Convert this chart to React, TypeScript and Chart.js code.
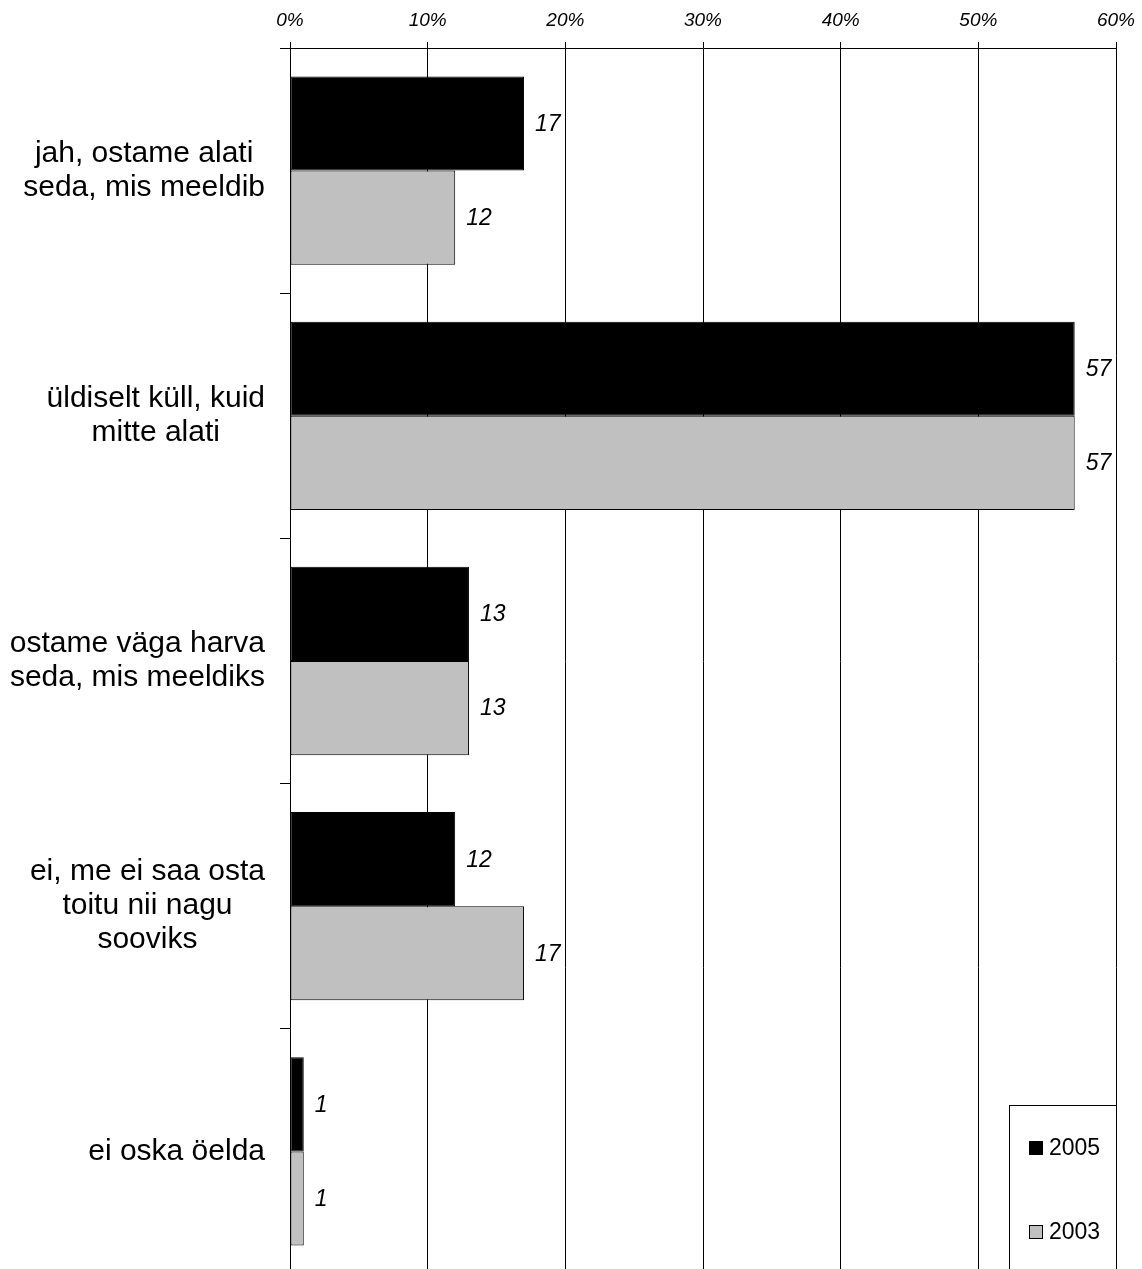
import React, { useEffect, useRef } from "react";
import { Chart, registerables } from "chart.js";

Chart.register(...registerables);

// Survey answers (share of respondents, %)
const categories: string[][] = [
  ["jah, ostame alati", "seda, mis meeldib"],
  ["üldiselt küll, kuid", "mitte alati"],
  ["ostame väga harva", "seda, mis meeldiks"],
  ["ei, me ei saa osta", "toitu nii nagu", "sooviks"],
  ["ei oska öelda"],
];
const seriesNames = ["2005", "2003"];
const values2005 = [17, 57, 13, 12, 1];
const values2003 = [12, 57, 13, 17, 1];
const seriesColors = ["#000000", "#C0C0C0"];
const xMin = 0;
const xMax = 60;
const xStep = 10;

const FONT = "'Liberation Sans', Arial, Helvetica, sans-serif";

// Category names: each block right-aligned to the axis, lines centred within it
const categoryLabelPlugin = {
  id: "categoryLabels",
  afterDraw(chart: any) {
    const { ctx } = chart;
    const yScale = chart.scales.y;
    const right = chart.chartArea.left - 25;
    const lineHeight = 34;
    ctx.save();
    ctx.font = `30px ${FONT}`;
    ctx.fillStyle = "#000";
    ctx.textAlign = "center";
    ctx.textBaseline = "middle";
    categories.forEach((lines, i) => {
      const cy = yScale.getPixelForTick(i);
      const blockW = Math.max(...lines.map((l) => ctx.measureText(l).width));
      const cx = right - blockW / 2;
      const startY = cy - ((lines.length - 1) * lineHeight) / 2;
      lines.forEach((line, j) => {
        ctx.fillText(line, cx, startY + j * lineHeight);
      });
    });
    ctx.restore();
  },
};

// Value labels just past the end of every bar
const valueLabelPlugin = {
  id: "valueLabels",
  afterDatasetsDraw(chart: any) {
    const { ctx } = chart;
    ctx.save();
    ctx.font = `italic 23px ${FONT}`;
    ctx.fillStyle = "#000";
    ctx.textAlign = "left";
    ctx.textBaseline = "middle";
    chart.data.datasets.forEach((ds: any, di: number) => {
      const meta = chart.getDatasetMeta(di);
      meta.data.forEach((el: any, i: number) => {
        ctx.fillText(String(ds.data[i]), el.x + 11, el.y + 1);
      });
    });
    ctx.restore();
  },
};

// Boxed legend sitting in the lower right corner of the plot
const boxLegendPlugin = {
  id: "boxLegend",
  afterDraw(chart: any) {
    const { ctx, chartArea } = chart;
    const right = chartArea.right + 1;
    const left = right - 108;
    const top = chartArea.bottom - 169;
    ctx.save();
    ctx.fillStyle = "#fff";
    ctx.fillRect(left, top, right - left, chartArea.bottom - top + 2);
    ctx.strokeStyle = "#000";
    ctx.lineWidth = 1;
    ctx.strokeRect(left + 0.5, top + 0.5, right - left - 1, chartArea.bottom - top + 10);
    ctx.font = `23px ${FONT}`;
    ctx.textBaseline = "middle";
    ctx.textAlign = "left";
    chart.data.datasets.forEach((ds: any, di: number) => {
      const cy = top + 43 + di * 84;
      ctx.fillStyle = ds.backgroundColor;
      ctx.fillRect(left + 20, cy - 7, 14, 14);
      ctx.strokeStyle = "#000";
      ctx.strokeRect(left + 20.5, cy - 6.5, 13, 13);
      ctx.fillStyle = "#000";
      ctx.fillText(ds.label, left + 40, cy + 1);
    });
    ctx.restore();
  },
};

export default function App() {
  const canvasRef = useRef<HTMLCanvasElement | null>(null);

  useEffect(() => {
    const canvas = canvasRef.current;
    if (!canvas) return;
    const chart = new Chart(canvas, {
      type: "bar",
      data: {
        labels: categories.map((c) => c.join(" ")),
        datasets: [
          {
            label: seriesNames[0],
            data: values2005,
            backgroundColor: seriesColors[0],
            borderColor: "#000",
            borderWidth: 1,
            borderSkipped: false,
          },
          {
            label: seriesNames[1],
            data: values2003,
            backgroundColor: seriesColors[1],
            borderColor: "#000",
            borderWidth: 1,
            borderSkipped: false,
          },
        ],
      },
      options: {
        indexAxis: "y",
        responsive: false,
        animation: false,
        layout: { padding: { top: 0, right: 26, bottom: 0, left: 0 } },
        datasets: {
          bar: { categoryPercentage: 0.768, barPercentage: 1 },
        },
        plugins: {
          legend: { display: false },
          tooltip: { enabled: false },
        },
        scales: {
          x: {
            position: "top",
            min: xMin,
            max: xMax,
            ticks: {
              stepSize: xStep,
              padding: 10,
              color: "#000",
              font: { family: FONT, size: 19, style: "italic" },
              callback: (v: any) => `${v}%`,
            },
            grid: {
              color: "#000",
              lineWidth: 1,
              tickLength: 6,
              drawTicks: true,
            },
            border: { display: true, color: "#000", width: 1 },
            afterFit: (scale: any) => {
              scale.height = 48;
              scale.paddingLeft = 0;
              scale.paddingRight = 0;
            },
          },
          y: {
            position: "left",
            offset: true,
            ticks: { display: false },
            grid: {
              offset: true,
              drawOnChartArea: false,
              drawTicks: true,
              tickLength: 10,
              color: "#000",
            },
            border: { display: true, color: "#000", width: 1 },
            afterFit: (scale: any) => {
              scale.width = 290;
              scale.paddingTop = 0;
              scale.paddingBottom = 0;
            },
          },
        },
      },
      plugins: [valueLabelPlugin, categoryLabelPlugin, boxLegendPlugin],
    });
    return () => chart.destroy();
  }, []);

  return (
    <div
      style={{
        position: "absolute",
        left: 0,
        top: 0,
        width: 1142,
        height: 1269,
        overflow: "hidden",
        background: "#fff",
      }}
    >
      <canvas ref={canvasRef} width={1142} height={1274} style={{ display: "block" }} />
    </div>
  );
}
